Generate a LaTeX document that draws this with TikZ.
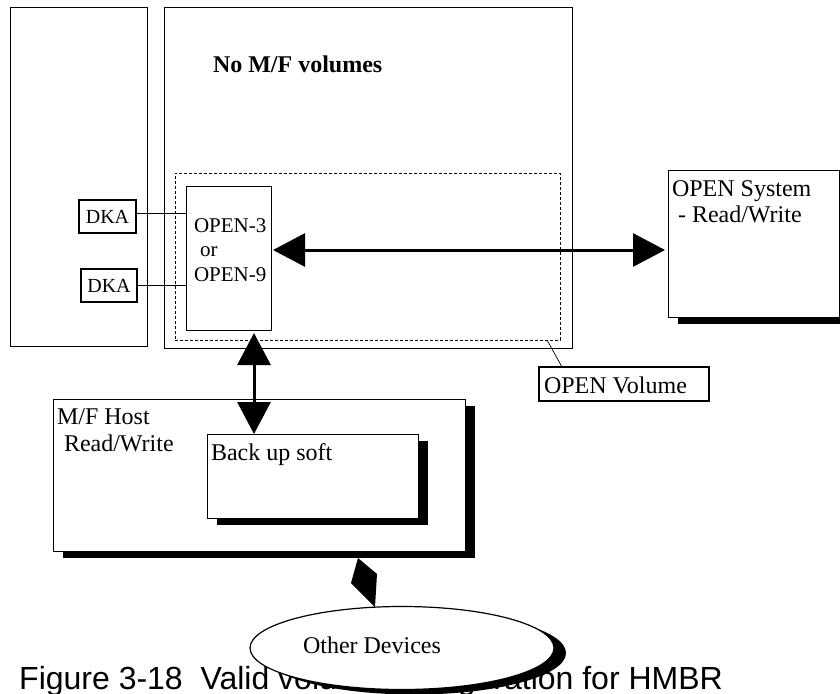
\documentclass[tikz,border=0pt]{standalone}
\usepackage{fontspec}
\setmainfont{Liberation Serif}
\newfontfamily\capfont{Liberation Sans}
\usetikzlibrary{arrows.meta,shapes.geometric,shadows}

\tikzset{
  box/.style={draw=black, line width=1pt, fill=white, rectangle, inner sep=0pt, outer sep=0pt, anchor=north west},
  heavybox/.style={box, line width=2pt},
  dashbox/.style={draw=black, line width=0.9pt, dash pattern=on 3pt off 2pt, rectangle, inner sep=0pt, outer sep=0pt, anchor=north west},
  shadowed/.style={drop shadow={shadow xshift=10pt, shadow yshift=-7pt, fill=black, opacity=1}},
  lbl/.style={inner sep=0pt, outer sep=0pt, anchor=base west, font=\fontsize{24}{24}\selectfont},
  smalllbl/.style={lbl, font=\fontsize{21}{21}\selectfont},
  bigarrow/.style={line width=3pt, {Triangle[length=32pt,width=33pt]}-{Triangle[length=32pt,width=33pt]}},
  thin/.style={line width=0.8pt}
}

\begin{document}
\begin{tikzpicture}[x=1pt, y=-1pt]
\useasboundingbox (0,0) rectangle (840,693);

% controller frames
\node[box, minimum width=137pt, minimum height=338pt] (leftbox) at (10,8) {};
\node[box, minimum width=408pt, minimum height=340pt] (mainbox) at (164,8) {};
\node[lbl, font=\fontsize{24}{24}\selectfont\bfseries] (nomf) at (213,73) {No M/F volumes};

% open volume area
\node[dashbox, minimum width=385pt, minimum height=167pt] (dashbox) at (175,173) {};
\node[box, minimum width=85pt, minimum height=144pt] (openbox) at (186,186) {};
\node[smalllbl] (o3) at (194,232) {OPEN-3};
\node[smalllbl] (or) at (200,256) {or};
\node[smalllbl] (o9) at (194,281) {OPEN-9};

% disk adapters
\node[heavybox, line width=1.6pt, minimum width=57pt, minimum height=33pt, font=\fontsize{20}{20}\selectfont] (dka1) at (79,200) {DKA};
\node[heavybox, line width=1.6pt, minimum width=56pt, minimum height=33pt, font=\fontsize{20}{20}\selectfont] (dka2) at (81,269) {DKA};
\coordinate (l1) at (0,213);
\coordinate (l2) at (0,285);
\draw[thin] (dka1.east |- l1) -- (openbox.west |- l1);
\draw[thin] (dka2.east |- l2) -- (openbox.west |- l2);

% open system host
\node[box, shadowed, minimum width=171pt, minimum height=147pt] (ossys) at (668,170) {};
\node[lbl] (ostxt) at (672,196) {OPEN System};
\node[lbl] (osrw) at (678,222) {- Read/Write};

\coordinate (hy) at (0,250);
\draw[bigarrow] ([xshift=2pt]openbox.east |- hy) -- ([xshift=-3pt]ossys.west |- hy);

% open volume callout
\node[heavybox, minimum width=170pt, minimum height=34pt] (openvol) at (539,367) {};
\node[lbl] (ovtxt) at (544,393) {OPEN Volume};
\coordinate (lx1) at (547,0);
\coordinate (lx2) at (562,0);
\draw[line width=0.7pt] (dashbox.south -| lx1) -- (openvol.north -| lx2);

% mainframe host
\node[box, shadowed, minimum width=412pt, minimum height=152pt] (mfhost) at (53,399) {};
\node[lbl] (mftxt) at (57,424) {M/F Host};
\node[lbl] (mfrw) at (64,451) {Read/Write};
\node[box, shadowed, minimum width=211pt, minimum height=84pt] (backup) at (207,434) {};
\node[lbl] (bktxt) at (211,460) {Back up soft};

\coordinate (vx) at (254,0);
\draw[bigarrow] ([yshift=-3pt]openbox.south -| vx) -- (backup.north -| vx);

% caption
\node[inner sep=0pt, anchor=base west, font=\capfont\fontsize{32}{32}\selectfont] (caption) at (19,689) {Figure 3-18\ \ Valid volume configuration for HMBR};

% link to other devices
\coordinate (dtop) at (358,558);
\coordinate (dright) at (377,574);
\coordinate (dbot) at (375,607);
\coordinate (dleft) at (351,583);
\fill[black] (dtop) -- (dright) -- (dbot) -- (dleft) -- cycle;

\node[ellipse, draw=black, line width=1.2pt, fill=white, inner sep=0pt,
      minimum width=304pt, minimum height=83pt,
      drop shadow={shadow xshift=12pt, shadow yshift=-5pt, fill=black, opacity=1}] (devices) at (402,648) {};
\node[lbl] (devtxt) at (303,653) {Other Devices};
\end{tikzpicture}
\end{document}
